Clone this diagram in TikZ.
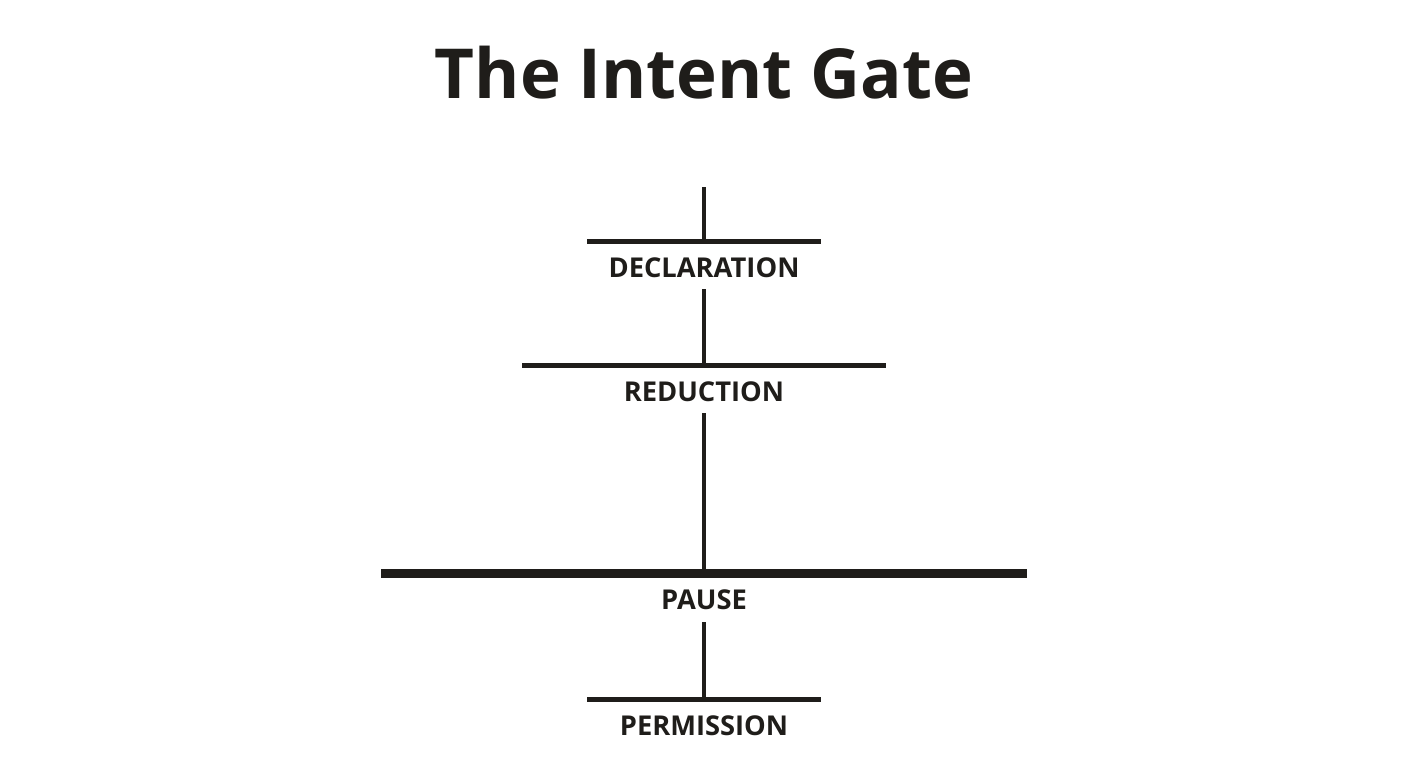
\documentclass[tikz,border=0pt]{standalone}
\usepackage{fontspec}
\setmainfont{Open Sans}
\definecolor{ink}{HTML}{1F1D1A}
\begin{document}
\begin{tikzpicture}[x=1pt,y=-1pt,
  bar/.style={draw=ink,line width=5pt},
  stem/.style={draw=ink,line width=4pt},
  lbl/.style={text=ink,font=\bfseries\fontsize{27.3}{30}\selectfont,inner sep=0pt,anchor=base}]
\useasboundingbox[fill=white] (0,0) rectangle (1408,768);
\node[text=ink,font=\bfseries\fontsize{69}{80}\selectfont,inner sep=0pt,anchor=base] (title) at (704,98) {The Intent Gate};
\coordinate (top) at (704,187);
\coordinate (b1c) at (704,241);
\coordinate (b1l) at (587,241);
\coordinate (b1r) at (821,241);
\node[lbl] (l1) at (704,277) {DECLARATION};
\coordinate (s2a) at (704,289);
\coordinate (b2c) at (704,365);
\coordinate (b2l) at (522,365);
\coordinate (b2r) at (886,365);
\node[lbl] (l2) at (704,401) {REDUCTION};
\coordinate (s3a) at (704,413);
\coordinate (b3c) at (704,573);
\coordinate (b3l) at (381,573);
\coordinate (b3r) at (1027,573);
\node[lbl] (l3) at (704,609) {PAUSE};
\coordinate (s4a) at (704,622);
\coordinate (b4c) at (704,699);
\coordinate (b4l) at (587,699);
\coordinate (b4r) at (821,699);
\node[lbl] (l4) at (704,735) {PERMISSION};
\draw[stem] (top) -- (b1c);
\draw[bar] (b1l) -- (b1r);
\draw[stem] (s2a) -- (b2c);
\draw[bar] (b2l) -- (b2r);
\draw[stem] (s3a) -- (b3c);
\draw[bar,line width=9pt] (b3l) -- (b3r);
\draw[stem] (s4a) -- (b4c);
\draw[bar] (b4l) -- (b4r);
\end{tikzpicture}
\end{document}
